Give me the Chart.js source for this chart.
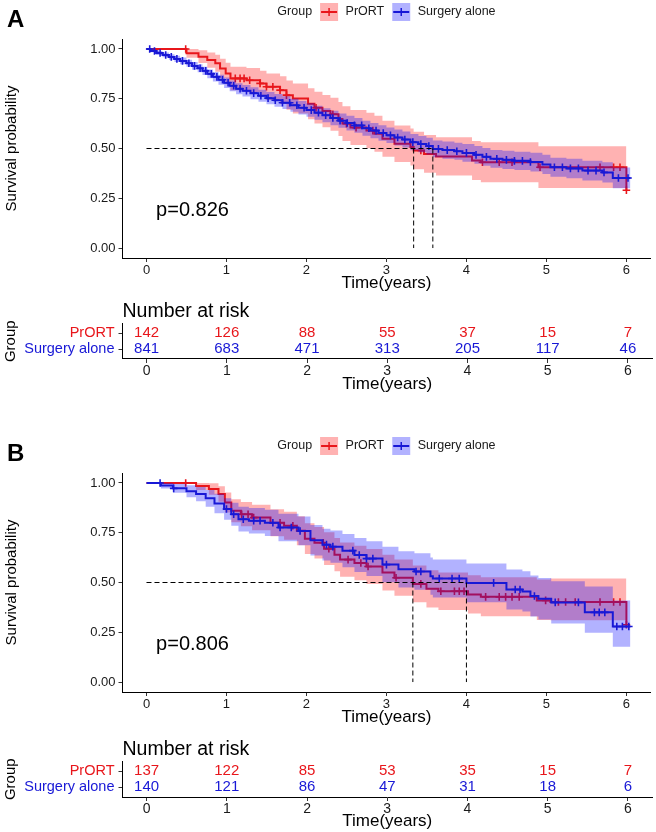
<!DOCTYPE html>
<html><head><meta charset="utf-8">
<script src="https://cdn.jsdelivr.net/npm/chart.js@4.4.0/dist/chart.umd.min.js"></script>
<style>
html,body{margin:0;padding:0;background:#fff;}
#wrap{position:relative;width:656px;height:832px;overflow:hidden;background:#fff;}
canvas{position:absolute;left:0;}
</style></head><body>
<div id="wrap">
<canvas id="kmA" width="656" height="300" style="top:0px;width:656px;height:300px"></canvas>
<canvas id="rtA" width="656" height="100" style="top:296px;width:656px;height:100px"></canvas>
<canvas id="kmB" width="656" height="300" style="top:434px;width:656px;height:300px"></canvas>
<canvas id="rtB" width="656" height="98" style="top:734px;width:656px;height:98px"></canvas>
</div>
<script>
// ---------------- DATA ----------------
const timeTicks = [0, 1, 2, 3, 4, 5, 6];
const survTicks = [0, 0.25, 0.5, 0.75, 1];
const groups = ['PrORT', 'Surgery alone'];

// Panel A - PrORT
const A_prort_t  = [0,0.50,0.65,0.76,0.86,0.92,0.99,1.05,1.25,1.42, 1.50,1.67,1.75,1.83,2.02,2.10,2.20,2.30,2.40,2.45, 2.55,2.75,2.85,2.95,3.10,3.30,3.34,3.47,3.62,4.07, 4.18,4.90,6.00];
const A_prort_s  = [1,0.978,0.961,0.944,0.928,0.902,0.877,0.852,0.843,0.827, 0.810,0.793,0.768,0.751,0.725,0.705,0.688,0.672,0.648,0.625, 0.605,0.590,0.574,0.549,0.524,0.507,0.490,0.473,0.460,0.440, 0.431,0.406,0.290];
const A_prort_lo = [1,0.956,0.929,0.906,0.885,0.853,0.823,0.793,0.782,0.763, 0.743,0.723,0.695,0.676,0.647,0.625,0.607,0.589,0.563,0.538, 0.517,0.501,0.484,0.458,0.432,0.414,0.396,0.378,0.364,0.342, 0.331,0.301,0.301];
const A_prort_hi = [1,1.000,0.993,0.982,0.971,0.951,0.931,0.911,0.904,0.891, 0.877,0.863,0.841,0.826,0.803,0.785,0.769,0.755,0.733,0.712, 0.693,0.679,0.664,0.640,0.616,0.600,0.584,0.568,0.556,0.538, 0.531,0.511,0.511];
const A_prort_cens = [0.49,1.11,1.17,1.22,1.29,1.42,1.50,1.58,1.67,1.75,2.12,2.33,2.50,2.62,2.83,3.43,4.20,4.41,4.57,4.92,5.67,5.84,5.92,6.00];

// Panel A - Surgery alone
const A_surg_t  = [0,0.05,0.12,0.20,0.28,0.35,0.42,0.50,0.57,0.64, 0.70,0.76,0.83,0.90,0.97,1.04,1.12,1.20,1.30,1.40, 1.50,1.60,1.70,1.80,1.90,2.00,2.10,2.20,2.30,2.40, 2.50,2.60,2.70,2.80,2.90,3.00,3.10,3.20,3.30,3.40, 3.50,3.58,3.70,3.85,3.95,4.10,4.20,4.30,4.45,4.60, 4.80,4.95,5.05,5.25,5.45,5.70,5.83,6.05];
const A_surg_s  = [1,0.990,0.980,0.970,0.960,0.950,0.940,0.928,0.915,0.903, 0.890,0.875,0.860,0.845,0.830,0.815,0.800,0.790,0.778,0.765, 0.753,0.742,0.730,0.717,0.705,0.693,0.680,0.667,0.653,0.640, 0.628,0.616,0.602,0.590,0.578,0.566,0.555,0.545,0.532,0.522, 0.512,0.498,0.492,0.486,0.478,0.468,0.458,0.448,0.443,0.438, 0.432,0.420,0.406,0.400,0.389,0.380,0.352,0.352];
const A_surg_lo = [1,0.983,0.970,0.958,0.946,0.934,0.923,0.910,0.896,0.883, 0.869,0.853,0.836,0.820,0.804,0.788,0.772,0.761,0.748,0.735, 0.722,0.710,0.698,0.684,0.671,0.659,0.645,0.632,0.617,0.604, 0.591,0.579,0.564,0.552,0.539,0.527,0.515,0.505,0.491,0.481, 0.470,0.456,0.449,0.443,0.434,0.424,0.413,0.403,0.397,0.392, 0.385,0.372,0.358,0.351,0.339,0.329,0.300,0.300];
const A_surg_hi = [1,0.997,0.990,0.982,0.974,0.966,0.957,0.946,0.934,0.923, 0.911,0.897,0.884,0.870,0.856,0.842,0.828,0.819,0.808,0.795, 0.784,0.774,0.762,0.750,0.739,0.727,0.715,0.702,0.689,0.676, 0.665,0.653,0.640,0.628,0.617,0.605,0.595,0.585,0.573,0.563, 0.554,0.540,0.535,0.529,0.522,0.512,0.503,0.493,0.489,0.484, 0.479,0.468,0.454,0.449,0.439,0.431,0.404,0.404];
const A_surg_cens = [0.04,0.10,0.17,0.24,0.31,0.38,0.45,0.53,0.60,0.67,0.74,0.81,0.88,0.95,1.02,1.09,1.17,1.25,1.34,1.43,1.52,1.61,1.70,1.79,1.88,1.97,2.06,2.15,2.24,2.33,2.42,2.51,2.60,2.69,2.78,2.87,2.96,3.05,3.14,3.23,3.33,3.43,3.53,3.65,3.76,3.88,4.00,4.12,4.25,4.38,4.50,4.60,4.70,4.80,5.10,5.20,5.30,5.40,5.52,5.62,5.72,5.90,6.02];

const A_medians = [3.34, 3.58];
const A_pval = 'p=0.826';
const A_risk_prort = [142, 126, 88, 55, 37, 15, 7];
const A_risk_surg  = [841, 683, 471, 313, 205, 117, 46];

// Panel B - PrORT
const B_prort_t  = [0,0.62,0.78,0.90,0.98,1.06,1.18,1.32,1.55,1.72, 1.88,1.98,2.10,2.22,2.35,2.42,2.60,2.75,2.95,3.10, 3.33,3.50,3.65,4.02,4.18,4.88,5.05,6.00];
const B_prort_s  = [1,0.985,0.970,0.944,0.902,0.860,0.843,0.826,0.800,0.785, 0.760,0.720,0.700,0.670,0.640,0.615,0.598,0.580,0.550,0.524, 0.493,0.468,0.456,0.440,0.428,0.410,0.402,0.288];
const B_prort_lo = [1,0.965,0.941,0.905,0.852,0.802,0.782,0.762,0.732,0.715, 0.687,0.643,0.621,0.588,0.556,0.529,0.511,0.492,0.460,0.433, 0.401,0.375,0.362,0.344,0.330,0.312,0.310,0.310];
const B_prort_hi = [1,1.000,0.999,0.983,0.952,0.918,0.904,0.890,0.868,0.855, 0.833,0.797,0.779,0.752,0.724,0.701,0.685,0.668,0.640,0.615, 0.585,0.561,0.550,0.536,0.526,0.515,0.520,0.520];
const B_prort_cens = [0.49,1.19,1.27,1.34,1.67,1.83,2.21,2.28,2.52,2.68,2.77,3.12,3.43,3.68,3.85,3.91,3.97,4.24,4.41,4.49,4.57,4.66,4.99,5.15,5.24,5.36,5.67,5.84,5.92,6.00];

// Panel B - Surgery alone
const B_surg_t  = [0,0.18,0.33,0.50,0.62,0.74,0.85,0.97,1.06,1.15, 1.28,1.48,1.65,1.90,2.05,2.20,2.30,2.45,2.60,2.75, 2.95,3.15,3.35,3.55,3.58,4.00,4.50,4.70,4.80,4.90, 5.06,5.48,5.83,6.05];
const B_surg_s  = [1,0.987,0.973,0.958,0.944,0.923,0.897,0.869,0.843,0.818, 0.810,0.800,0.776,0.759,0.712,0.690,0.680,0.660,0.638,0.620, 0.590,0.566,0.555,0.532,0.520,0.498,0.465,0.455,0.432,0.418, 0.400,0.350,0.279,0.279];
const B_surg_lo = [1,0.972,0.951,0.928,0.908,0.881,0.848,0.815,0.785,0.756, 0.746,0.734,0.707,0.687,0.635,0.610,0.599,0.577,0.553,0.533, 0.501,0.475,0.463,0.438,0.425,0.401,0.365,0.354,0.329,0.314, 0.294,0.247,0.177,0.177];
const B_surg_hi = [1,1.000,0.995,0.988,0.980,0.965,0.946,0.923,0.901,0.880, 0.874,0.866,0.845,0.831,0.789,0.770,0.761,0.743,0.723,0.707, 0.679,0.657,0.647,0.626,0.615,0.595,0.565,0.556,0.535,0.522, 0.506,0.480,0.410,0.410];
const B_surg_cens = [0.17,0.34,1.00,1.09,1.21,1.34,1.42,1.58,1.67,1.81,1.92,2.25,2.33,2.58,2.66,2.75,2.83,3.00,3.37,3.43,3.66,3.82,3.91,4.34,4.61,4.67,4.85,5.11,5.40,5.60,5.66,5.73,5.88,5.95,6.03];

const B_medians = [3.33, 4.00];
const B_pval = 'p=0.806';
const B_risk_prort = [137, 122, 85, 53, 35, 15, 7];
const B_risk_surg  = [140, 121, 86, 47, 31, 18, 6];

// ---------------- STYLE ----------------
const FONT = "'Liberation Sans', Arial, Helvetica, sans-serif";
const RED = '#E8161B', BLUE = '#1818D6';
const RED_BAND = 'rgba(255,0,0,0.3)', BLUE_BAND = 'rgba(0,0,255,0.3)';
const NONE = 'rgba(0,0,0,0)';

function pts(t, v) { return t.map((x, i) => ({ x: x, y: v[i] })); }
function survAt(t, s, x) { let v = s[0]; for (let i = 0; i < t.length; i++) { if (t[i] <= x + 1e-9) v = s[i]; } return v; }

function xScale(h, titlePadBottom, tickSize, tickPad) {
  return {
    type: 'linear', min: -0.3, max: 6.3,
    afterBuildTicks: s => { s.ticks = timeTicks.map(v => ({ value: v })); },
    afterFit: s => { s.height = h; },
    grid: { drawOnChartArea: false, drawTicks: true, tickLength: 4, color: '#333', lineWidth: 1 },
    border: { display: true, color: '#000', width: 1 },
    ticks: { font: { family: FONT, size: tickSize }, color: '#1a1a1a', padding: tickPad, maxRotation: 0, autoSkip: false },
    title: { display: true, text: 'Time(years)', font: { family: FONT, size: 17 }, color: '#000', padding: { top: 0, bottom: titlePadBottom } }
  };
}

const kmDecor = {
  id: 'kmDecor',
  afterDraw(chart, args, o) {
    const { ctx, chartArea, scales } = chart;
    ctx.save();
    ctx.fillStyle = '#000';
    ctx.textAlign = 'left'; ctx.textBaseline = 'middle';
    ctx.font = 'bold 24px ' + FONT;
    ctx.fillText(o.letter, 7, 20);
    // legend
    ctx.font = '12.5px ' + FONT;
    const cy = 12, box = 18, g1 = 8, g2 = 7.5;
    const wG = ctx.measureText('Group').width, wP = ctx.measureText(groups[0]).width, wS = ctx.measureText(groups[1]).width;
    const total = wG + g1 + box + g2 + wP + g1 + box + g2 + wS;
    let x = (chartArea.left + chartArea.right) / 2 - total / 2;
    const sw = (x0, col, band) => {
      ctx.fillStyle = band; ctx.fillRect(x0, cy - box / 2, box, box);
      ctx.strokeStyle = col; ctx.lineWidth = 2;
      ctx.beginPath(); ctx.moveTo(x0 + 1, cy); ctx.lineTo(x0 + box - 1, cy); ctx.stroke();
      ctx.lineWidth = 1.5;
      ctx.beginPath(); ctx.moveTo(x0 + box / 2, cy - 4); ctx.lineTo(x0 + box / 2, cy + 4); ctx.stroke();
    };
    ctx.fillStyle = '#1a1a1a'; ctx.fillText('Group', x, cy); x += wG + g1;
    sw(x, RED, RED_BAND); x += box + g2;
    ctx.fillStyle = '#1a1a1a'; ctx.fillText(groups[0], x, cy); x += wP + g1;
    sw(x, BLUE, BLUE_BAND); x += box + g2;
    ctx.fillStyle = '#1a1a1a'; ctx.fillText(groups[1], x, cy);
    // p value
    ctx.fillStyle = '#000';
    ctx.font = '20px ' + FONT;
    ctx.fillText(o.pval, scales.x.getPixelForValue(0.12), scales.y.getPixelForValue(0.19));
    ctx.restore();
  }
};

function makeKM(id, c) {
  const ds = [];
  const line = (data, col, order) => ({ data, stepped: true, borderColor: col, borderWidth: 2, pointRadius: 0, fill: false, order });
  const bandHi = (data, band, order) => ({ data, stepped: true, borderColor: NONE, borderWidth: 0, pointRadius: 0, fill: '+1', backgroundColor: band, order });
  const bandLo = (data, order) => ({ data, stepped: true, borderColor: NONE, borderWidth: 0, pointRadius: 0, fill: false, order });
  const cens = (t, s, times, col, order) => ({ data: times.map(x => ({ x, y: survAt(t, s, x) })), showLine: false, pointStyle: 'cross', pointRadius: 3.8, pointBorderColor: col, pointBackgroundColor: col, pointBorderWidth: 1.6, order });
  ds.push(bandHi(pts(c.pt, c.phi), RED_BAND, 6));
  ds.push(bandLo(pts(c.pt, c.plo), 6));
  ds.push(line(pts(c.pt, c.ps), RED, 5));
  ds.push(cens(c.pt, c.ps, c.pc, RED, 4));
  ds.push(bandHi(pts(c.st, c.shi), BLUE_BAND, 3));
  ds.push(bandLo(pts(c.st, c.slo), 3));
  ds.push(line(pts(c.st, c.ss), BLUE, 2));
  ds.push(cens(c.st, c.ss, c.sc, BLUE, 1));
  const mmax = Math.max(...c.med);
  const dash = data => ({ data, borderColor: '#000', borderWidth: 1, borderDash: [5, 3], pointRadius: 0, fill: false, order: 0 });
  ds.push(dash([{ x: 0, y: 0.5 }, { x: mmax, y: 0.5 }]));
  c.med.forEach(m => ds.push(dash([{ x: m, y: 0.5 }, { x: m, y: 0 }])));
  return new Chart(document.getElementById(id), {
    type: 'line',
    data: { datasets: ds },
    options: {
      responsive: false, animation: false, devicePixelRatio: 1, events: [],
      layout: { padding: { top: 39, right: 4, left: 0, bottom: 0 } },
      elements: { line: { tension: 0 } },
      plugins: { legend: { display: false }, tooltip: { enabled: false }, kmDecor: { letter: c.letter, pval: c.pval } },
      scales: {
        x: xScale(42, 6, 13, 1),
        y: {
          type: 'linear', min: -0.05, max: 1.05,
          afterBuildTicks: s => { s.ticks = survTicks.map(v => ({ value: v })); },
          afterFit: s => { s.width = 122.5; },
          grid: { drawOnChartArea: false, drawTicks: true, tickLength: 4, color: '#333', lineWidth: 1 },
          border: { display: true, color: '#000', width: 1 },
          ticks: { font: { family: FONT, size: 13 }, color: '#1a1a1a', padding: 3, callback: v => Number(v).toFixed(2) },
          title: { display: true, text: 'Survival probability', font: { family: FONT, size: 15 }, color: '#000', padding: { top: 3, bottom: 0 } }
        }
      }
    },
    plugins: [kmDecor]
  });
}

const riskText = {
  id: 'riskText',
  afterDatasetsDraw(chart, args, o) {
    const { ctx } = chart;
    ctx.save();
    ctx.font = '15px ' + FONT; ctx.textAlign = 'center'; ctx.textBaseline = 'middle';
    chart.data.datasets.forEach((d, i) => {
      const meta = chart.getDatasetMeta(i);
      ctx.fillStyle = d.textColor;
      meta.data.forEach((p, j) => ctx.fillText(String(d.counts[j]), p.x, p.y));
    });
    ctx.restore();
  }
};

function makeRisk(id, prort, surg, xh, tpb) {
  return new Chart(document.getElementById(id), {
    type: 'line',
    data: { datasets: [
      { label: groups[0], data: timeTicks.map(t => ({ x: t, y: 2 })), counts: prort, textColor: RED, showLine: false, pointRadius: 0 },
      { label: groups[1], data: timeTicks.map(t => ({ x: t, y: 1 })), counts: surg, textColor: BLUE, showLine: false, pointRadius: 0 }
    ] },
    options: {
      responsive: false, animation: false, devicePixelRatio: 1, events: [],
      layout: { padding: { top: 4, right: 4, left: 0, bottom: 0 } },
      plugins: {
        legend: { display: false }, tooltip: { enabled: false },
        title: { display: true, text: 'Number at risk', align: 'start', fullSize: false, color: '#000', font: { family: FONT, size: 19.5, weight: 'normal' }, padding: { top: 0, bottom: 0 } }
      },
      scales: {
        x: xScale(xh, tpb, 14, 0),
        y: {
          type: 'linear', min: 0.4, max: 2.6,
          afterBuildTicks: s => { s.ticks = [1, 2].map(v => ({ value: v })); },
          afterFit: s => { s.width = 122.5; },
          grid: { drawOnChartArea: false, drawTicks: true, tickLength: 4, color: '#333', lineWidth: 1 },
          border: { display: true, color: '#000', width: 1 },
          ticks: { font: { family: FONT, size: 14.5 }, padding: 4, color: c => (c.tick && c.tick.value === 2) ? RED : BLUE, callback: v => v === 2 ? groups[0] : groups[1] },
          title: { display: true, text: 'Group', font: { family: FONT, size: 15 }, color: '#000', padding: { top: 2, bottom: 0 } }
        }
      }
    },
    plugins: [riskText]
  });
}

makeKM('kmA', { letter: 'A', pval: A_pval, med: A_medians,
  pt: A_prort_t, ps: A_prort_s, plo: A_prort_lo, phi: A_prort_hi, pc: A_prort_cens,
  st: A_surg_t, ss: A_surg_s, slo: A_surg_lo, shi: A_surg_hi, sc: A_surg_cens });
makeRisk('rtA', A_risk_prort, A_risk_surg, 37, 1);
makeKM('kmB', { letter: 'B', pval: B_pval, med: B_medians,
  pt: B_prort_t, ps: B_prort_s, plo: B_prort_lo, phi: B_prort_hi, pc: B_prort_cens,
  st: B_surg_t, ss: B_surg_s, slo: B_surg_lo, shi: B_surg_hi, sc: B_surg_cens });
makeRisk('rtB', B_risk_prort, B_risk_surg, 35, 0);
</script>
</body></html>
